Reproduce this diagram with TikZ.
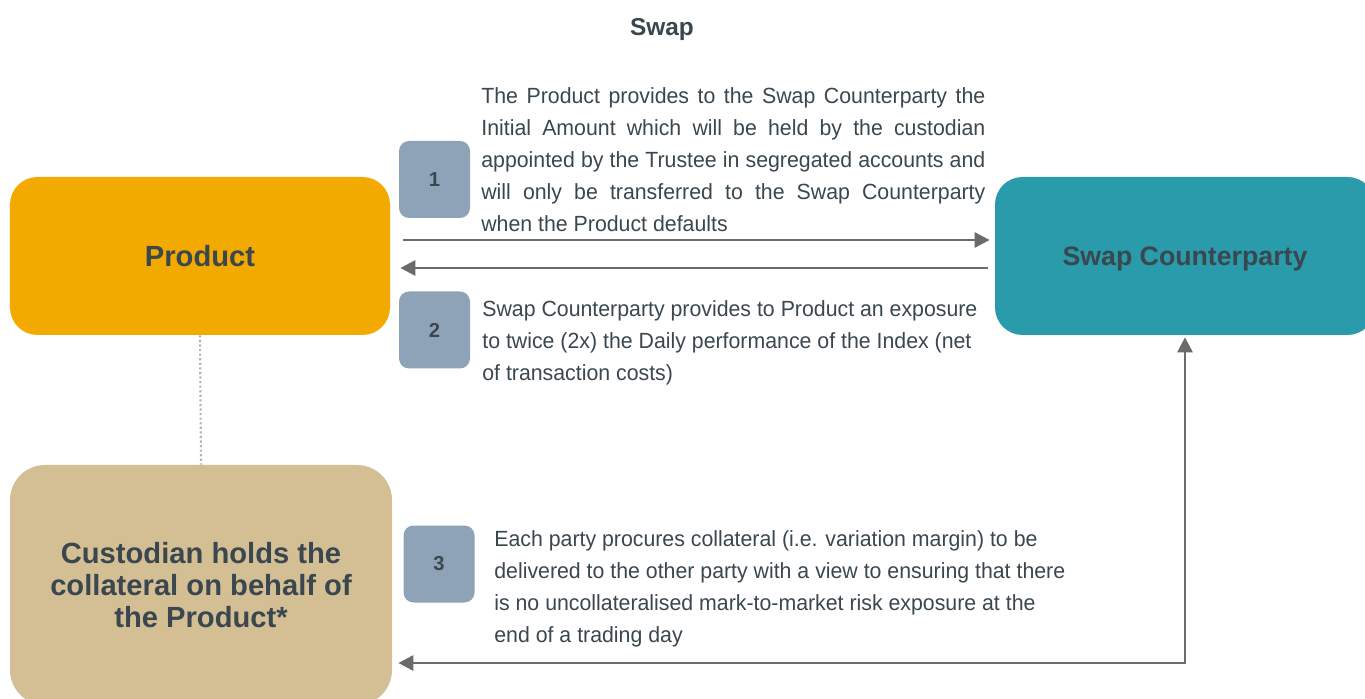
\documentclass[tikz,border=0pt]{standalone}
\usepackage{fontspec}
\setmainfont{Liberation Sans}
\newfontfamily\notefont{Liberation Sans}[FakeStretch=0.97]
\usetikzlibrary{arrows.meta, positioning}
\definecolor{prodfill}{HTML}{F2A900}
\definecolor{swapfill}{HTML}{2A9BAA}
\definecolor{custfill}{HTML}{D4BF95}
\definecolor{badgefill}{HTML}{8FA3B8}
\definecolor{inktext}{HTML}{3A474F}
\definecolor{arrowgray}{HTML}{6B6B6B}
\begin{document}
\begin{tikzpicture}[
    every node/.style={font=\notefont\fontsize{12.5}{18.2}\selectfont, text=inktext},
    party/.style={rectangle, rounded corners=0.55cm, minimum width=7.6cm, minimum height=3.16cm, text centered, inner sep=2pt, text height=0.42cm, text depth=0cm, font=\fontsize{16.6}{18.2}\selectfont\bfseries},
    badge/.style={rectangle, rounded corners=0.2cm, minimum width=1.42cm, minimum height=1.54cm, fill=badgefill, font=\fontsize{11.5}{13}\selectfont\bfseries},
    note/.style={anchor=west, inner sep=0pt},
    arrow/.style={-{Triangle[length=0.3cm, width=0.3cm]}, line width=1.6pt, draw=arrowgray},
    twoway/.style={{Triangle[length=0.3cm, width=0.3cm]}-{Triangle[length=0.3cm, width=0.3cm]}, line width=1.6pt, draw=arrowgray}
]
\useasboundingbox (0,0) rectangle (27.3,-13.98);
\node (title) at (13.24,-0.6) [font=\fontsize{13.9}{15}\selectfont\bfseries] {Swap};
\node (prod) at (4.0,-5.12) [party, fill=prodfill] {Product};
\node (swap) at (23.7,-5.12) [party, fill=swapfill, text height=0.39cm, font=\fontsize{15.2}{18.2}\selectfont\bfseries] {Swap Counterparty};
\node (cust) at (4.02,-11.7) [party, fill=custfill, minimum width=7.64cm, minimum height=4.8cm, rounded corners=0.7cm, align=center, text height=, text depth=, font=\fontsize{16.6}{18.2}\selectfont\bfseries] {Custodian holds the\\collateral on behalf of\\the Product*};
\node (b1) at (8.69,-3.59) [badge] {1};
\node (b2) at (8.69,-6.6) [badge] {2};
\node (b3) at (8.78,-11.28) [badge] {3};
\node (t1) at (9.62,-3.2) [note, text width=10.08cm, align=justify] {The Product provides to the Swap Counterparty the\linebreak Initial Amount which will be held by the custodian\linebreak appointed by the Trustee in segregated accounts and\linebreak will only be transferred to the Swap Counterparty\linebreak when the Product defaults};
\node (t2) at (9.64,-6.86) [note, align=left] {Swap Counterparty provides to Product an exposure\\to twice (2x) the Daily performance of the Index (net\\of transaction costs)};
\node (t3) at (9.88,-11.78) [note, align=left] {Each party procures collateral (i.e. variation margin) to be\\delivered to the other party with a view to ensuring that there\\is no uncollateralised mark-to-market risk exposure at the\\end of a trading day};

\draw [arrow, shorten <=0.26cm, shorten >=0.1cm] ([yshift=0.32cm]prod.east) -- ([yshift=0.32cm]swap.west);
\draw [arrow, shorten <=0.14cm, shorten >=0.2cm] ([yshift=-0.24cm]swap.west) -- ([yshift=-0.24cm]prod.east);
\draw [twoway, shorten >=0.12cm, shorten <=0.04cm] (swap.south) |- ([yshift=-1.56cm]cust.east);
\draw [gray!60, line width=1.2pt, dash pattern=on 1.2pt off 1.4pt] (prod.south) -- (cust.north);
\end{tikzpicture}
\end{document}
